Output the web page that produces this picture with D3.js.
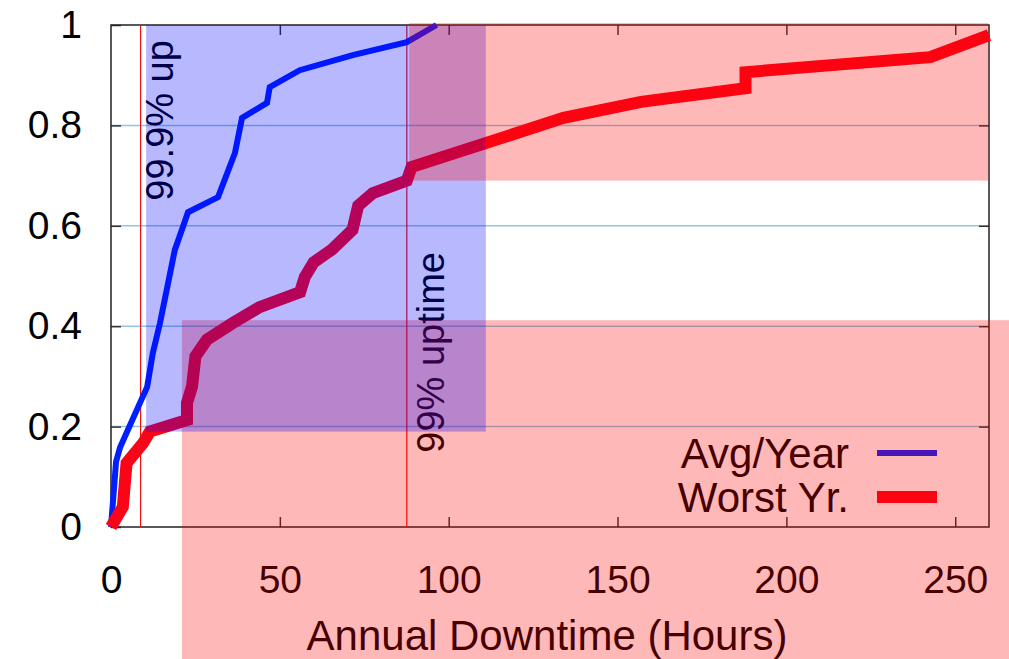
<!DOCTYPE html>
<html>
<head>
<meta charset="utf-8">
<script src="https://cdn.jsdelivr.net/npm/d3@7"></script>
<style>
  body { margin: 0; background: #fff; }
  svg { display: block; font-family: 'Liberation Sans', Arial, sans-serif; }
</style>
</head>
<body>
<script>
// axis ticks
const xTicks = [0, 50, 100, 150, 200, 250]
const yTicks = [0, 0.2, 0.4, 0.6, 0.8, 1]
const gridValues = [0.2, 0.4, 0.6, 0.8]

// Avg/Year curve (hours, cumulative fraction)
const avgHours = [0, 1.5, 2.7, 10.7, 12.4, 14.5, 18.9, 21, 22.8, 31.7, 36.7, 38.8, 46.2, 47, 55.9, 71.6, 87.6, 96.4]
const avgFrac = [0, 0.13, 0.159, 0.279, 0.347, 0.406, 0.552, 0.592, 0.627, 0.657, 0.745, 0.815, 0.845, 0.876, 0.91, 0.94, 0.966, 1.0]

// Worst Yr. curve
const worstHours = [0, 3.5, 4.6, 9.5, 11.5, 22.5, 22.5, 24, 25, 28.4, 36, 44, 56, 57.4, 60, 65.5, 71.5, 73.2, 77.5, 87.6, 89, 134, 157, 187.9, 187.9, 242.6, 260]
const worstFrac = [0, 0.04, 0.127, 0.167, 0.19, 0.213, 0.247, 0.28, 0.34, 0.373, 0.406, 0.438, 0.468, 0.498, 0.527, 0.553, 0.592, 0.64, 0.665, 0.69, 0.717, 0.815, 0.847, 0.874, 0.906, 0.936, 0.98]

const seriesNames = ['Avg/Year', 'Worst Yr.']
const seriesColors = ['#0020ff', '#fa0518']
const seriesWidths = [6, 12]

// uptime reference lines
const uptimeHours = [8.76, 87.6]
const uptimeLabels = ['99.9% up', '99% uptime']
const uptimeLabelFrac = [0.65, 0.148]

// shaded boxes, in draw order: lower red, blue, upper red
const boxX0 = [21, 10.4, 88.3]
const boxX1 = [266, 111, 259.8]
const boxY0 = [-0.27, 0.19, 0.69]
const boxY1 = [0.412, 1.0, 1.004]
const boxColors = ['#ff0000', '#0000ff', '#ff0000']

const width = 1009
const height = 659
const margin = { top: 25, right: 20, bottom: 132, left: 111 }

const x = d3.scaleLinear().domain([0, 260]).range([margin.left, width - margin.right])
const y = d3.scaleLinear().domain([0, 1]).range([height - margin.bottom, margin.top])

const svg = d3.select('body').append('svg')
  .attr('width', width)
  .attr('height', height)

// grid
svg.append('g')
  .selectAll('line')
  .data(gridValues)
  .join('line')
  .attr('x1', x(0))
  .attr('x2', x(260))
  .attr('y1', d => y(d))
  .attr('y2', d => y(d))
  .attr('stroke', '#8cc8e6')
  .attr('stroke-width', 1.5)

// axes
const xAxis = svg.append('g')
  .attr('transform', `translate(0,${y(0)})`)
  .call(d3.axisBottom(x).tickValues(xTicks).tickSize(-10).tickPadding(38).tickFormat(d3.format('d')))
const yAxis = svg.append('g')
  .attr('transform', `translate(${x(0)},0)`)
  .call(d3.axisLeft(y).tickValues(yTicks).tickSize(-10).tickPadding(29).tickFormat(d => d === 0 || d === 1 ? String(d) : d.toFixed(1)))
svg.append('g')
  .attr('transform', `translate(0,${y(1)})`)
  .call(d3.axisTop(x).tickValues(xTicks.slice(1)).tickSize(-10).tickFormat(''))
svg.append('g')
  .attr('transform', `translate(${x(260)},0)`)
  .call(d3.axisRight(y).tickValues(gridValues).tickSize(-10).tickFormat(''))

svg.selectAll('.domain').remove()
svg.selectAll('.tick line').attr('stroke', '#333').attr('stroke-width', 1.5)
;[xAxis, yAxis].forEach(a => a.selectAll('text')
  .attr('font-size', 39)
  .attr('font-family', "'Liberation Sans', Arial, sans-serif")
  .attr('fill', '#000'))

svg.append('rect')
  .attr('x', x(0))
  .attr('y', y(1))
  .attr('width', x(260) - x(0))
  .attr('height', y(0) - y(1))
  .attr('fill', 'none')
  .attr('stroke', '#222')
  .attr('stroke-width', 1.5)

// uptime lines and their labels
svg.append('g')
  .selectAll('line')
  .data(uptimeHours)
  .join('line')
  .attr('x1', d => x(d))
  .attr('x2', d => x(d))
  .attr('y1', y(0))
  .attr('y2', y(1))
  .attr('stroke', '#f01010')
  .attr('stroke-width', 1.2)

svg.append('g')
  .selectAll('text')
  .data(uptimeLabels)
  .join('text')
  .attr('transform', (d, i) => `translate(${x(uptimeHours[i]) + (i === 0 ? 32 : 37)},${y(uptimeLabelFrac[i])}) rotate(-90)`)
  .attr('font-size', 38)
  .attr('fill', '#000')
  .text(d => d)

// curves
const line = d3.line()
  .x(d => x(d[0]))
  .y(d => y(d[1]))
const series = [
  d3.zip(avgHours, avgFrac),
  d3.zip(worstHours, worstFrac)
]
svg.append('g')
  .selectAll('path')
  .data(series)
  .join('path')
  .attr('d', line)
  .attr('fill', 'none')
  .attr('stroke', (d, i) => seriesColors[i])
  .attr('stroke-width', (d, i) => seriesWidths[i])
  .attr('stroke-linejoin', 'miter')

// legend
const legend = svg.append('g')
seriesNames.forEach((name, i) => {
  const ly = 453 + i * 44
  legend.append('text')
    .attr('x', 849)
    .attr('y', ly + 15)
    .attr('text-anchor', 'end')
    .attr('font-size', 42)
    .attr('fill', '#000')
    .text(name)
  legend.append('line')
    .attr('x1', 877)
    .attr('x2', 937)
    .attr('y1', ly)
    .attr('y2', ly)
    .attr('stroke', seriesColors[i])
    .attr('stroke-width', seriesWidths[i])
})

// x axis title
svg.append('text')
  .attr('x', 547)
  .attr('y', 650)
  .attr('text-anchor', 'middle')
  .attr('font-size', 42)
  .attr('fill', '#000')
  .text('Annual Downtime (Hours)')

// translucent boxes over everything
svg.append('g')
  .selectAll('rect')
  .data(boxX0)
  .join('rect')
  .attr('x', (d, i) => x(boxX0[i]))
  .attr('y', (d, i) => y(boxY1[i]))
  .attr('width', (d, i) => x(boxX1[i]) - x(boxX0[i]))
  .attr('height', (d, i) => y(boxY0[i]) - y(boxY1[i]))
  .attr('fill', (d, i) => boxColors[i])
  .attr('fill-opacity', 0.28)
</script>
</body>
</html>
